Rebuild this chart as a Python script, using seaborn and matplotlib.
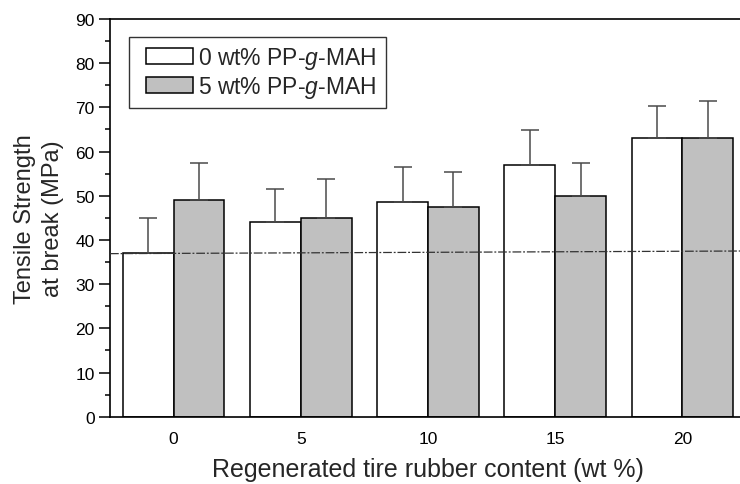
import numpy as np
import pandas as pd
import matplotlib
matplotlib.use("Agg")
import matplotlib.pyplot as plt
from matplotlib.patches import Patch, Rectangle
from matplotlib.legend_handler import HandlerPatch
from matplotlib.ticker import MultipleLocator
import seaborn as sns

# ---- data ----
contents = ["0", "5", "10", "15", "20"]
series_names = ["0 wt% PP-$\\mathit{g}$-MAH", "5 wt% PP-$\\mathit{g}$-MAH"]
strength_0 = [37.0, 44.0, 48.5, 57.0, 63.0]
err_0 = [7.9, 7.5, 7.9, 7.9, 7.2]
strength_5 = [49.0, 45.0, 47.5, 50.0, 63.0]
err_5 = [8.3, 8.8, 7.8, 7.5, 8.5]
ref_x = [-0.5, 4.5]
ref_y = [36.9, 37.5]
yticks = [0, 10, 20, 30, 40, 50, 60, 70, 80, 90]

sns.set_theme(style="ticks")
plt.rcParams["font.family"] = ["Liberation Sans", "DejaVu Sans"]
plt.rcParams["mathtext.fontset"] = "custom"
plt.rcParams["mathtext.rm"] = "Liberation Sans"
plt.rcParams["mathtext.it"] = "Liberation Sans:italic"

df = pd.DataFrame({
    "content": contents * 2,
    "series": [series_names[0]] * 5 + [series_names[1]] * 5,
    "value": strength_0 + strength_5,
})
palette = {series_names[0]: "white", series_names[1]: "#c0c0c0"}

fig = plt.figure(figsize=(7.40, 4.85), dpi=100)
ax = fig.add_axes([110 / 740, (485 - 417.7) / 485, 636 / 740, 397.7 / 485])

sns.barplot(data=df, x="content", y="value", hue="series", order=contents,
            hue_order=series_names, palette=palette, edgecolor="black",
            linewidth=1.1, width=0.8, errorbar=None, legend=False, ax=ax)

errs = [err_0, err_5]
for cont, e in zip(ax.containers, errs):
    xs = [p.get_x() + p.get_width() / 2 for p in cont.patches]
    hs = [p.get_height() for p in cont.patches]
    ax.errorbar(xs, hs, yerr=[np.zeros(len(e)), e], fmt="none",
                ecolor="#4a4a4a", elinewidth=1.1, capsize=6.5, capthick=1.1,
                zorder=1)

ax.plot(ref_x, ref_y, color="#333333", lw=0.9,
        linestyle=(0, (7, 1.5, 1.5, 1.5)), zorder=3)

ax.set_xlim(-0.5, 4.5)
ax.set_ylim(0, 90)
ax.set_yticks(yticks)
ax.yaxis.set_minor_locator(MultipleLocator(5))
ax.tick_params(axis="y", which="major", direction="out", length=8, width=1.1,
               labelsize=12.5, pad=3, color="black", labelcolor="black")
ax.tick_params(axis="y", which="minor", direction="out", length=3.6, width=1.1,
               color="black")
ax.tick_params(axis="x", length=0, labelsize=12.5, pad=10, labelcolor="black")
for side in ["left", "bottom", "top", "right"]:
    ax.spines[side].set_visible(True)
    ax.spines[side].set_linewidth(1.2)
    ax.spines[side].set_color("black")

ax.set_xlabel("Regenerated tire rubber content (wt %)", fontsize=18, labelpad=8.5)
ax.set_ylabel("Tensile Strength\nat break (MPa)", fontsize=17, labelpad=8,
              linespacing=1.35)


class OffsetPatchHandler(HandlerPatch):
    def __init__(self, offset_px, **kw):
        super().__init__(**kw)
        self.offset_px = offset_px

    def create_artists(self, legend, orig_handle, xdescent, ydescent,
                       width, height, fontsize, trans):
        off = self.offset_px * 72.0 / fig.dpi
        r = Rectangle((-xdescent + off, -ydescent), width - off, height,
                      facecolor=orig_handle.get_facecolor(),
                      edgecolor=orig_handle.get_edgecolor(),
                      linewidth=orig_handle.get_linewidth(),
                      transform=trans)
        return [r]


handles = [Patch(facecolor=palette[n], edgecolor="black", linewidth=1.1)
           for n in series_names]
leg_labels = [n + " " for n in series_names]
leg = ax.legend(handles, leg_labels, loc="upper left",
                bbox_to_anchor=(0.0303, 0.954), borderaxespad=0,
                fontsize=16.5, handlelength=2.45, handleheight=0.7,
                handletextpad=0.2, labelspacing=0.1, borderpad=0.35,
                fancybox=False, framealpha=1,
                handler_map={Patch: OffsetPatchHandler(9)})
leg.get_frame().set_edgecolor("#333333")
leg.get_frame().set_linewidth(1.0)

fig.savefig("out.png", dpi=100)
